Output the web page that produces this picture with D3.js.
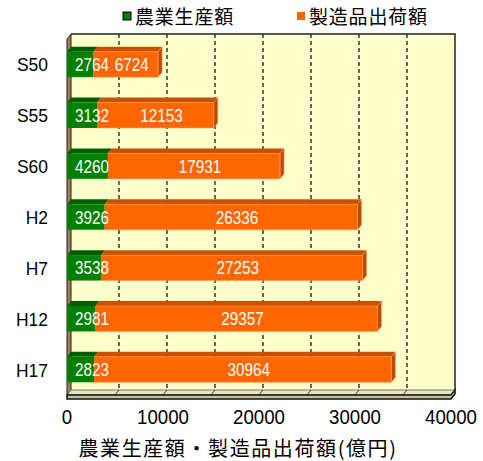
<!DOCTYPE html>
<html>
<head>
<meta charset="utf-8">
<script src="https://cdn.jsdelivr.net/npm/d3@7"></script>
<style>
  body { margin: 0; background: #fff; }
  text { font-family: "Noto Sans CJK JP", "Noto Sans", sans-serif; }
  text.num { font-family: "Liberation Sans", Arial, sans-serif; }
</style>
</head>
<body>
<div id="chart"></div>
<script>
const categories = ["S50", "S55", "S60", "H2", "H7", "H12", "H17"];
const agriculture = [2764, 3132, 4260, 3926, 3538, 2981, 2823];
const manufacturing = [6724, 12153, 17931, 26336, 27253, 29357, 30964];
const seriesNames = ["農業生産額", "製造品出荷額"];
const xTicks = [0, 10000, 20000, 30000, 40000];
const axisTitle = "農業生産額・製造品出荷額(億円)";

const width = 483, height = 461;
const dx = 4, dy = 5;   // 3D depth offset (back wall is up-right of the front plane)

const svg = d3.select("#chart").append("svg")
  .attr("width", width)
  .attr("height", height);

// front plane scales
const x = d3.scaleLinear().domain([0, 40000]).range([67, 451]);
const y = d3.scaleBand().domain(categories).range([39, 395]).paddingInner(0.5).paddingOuter(0.25);
const yTop = 39, yBottom = 395;

const pts = p => p.map(d => d.join(",")).join(" ");

// narrow gothic-looking numbers: squeeze horizontally
function numText(parent, tx, ty, str, size, sx, anchor) {
  return parent.append("text")
    .attr("class", "num")
    .attr("transform", `translate(${tx},${ty}) scale(${sx},1)`)
    .attr("text-anchor", anchor)
    .attr("font-size", size)
    .text(str);
}

// back wall
svg.append("rect")
  .attr("x", x(0) + dx).attr("y", yTop - dy)
  .attr("width", x(40000) - x(0)).attr("height", yBottom - yTop)
  .attr("fill", "#ffffcc");

// dashed gridlines on the back wall
d3.range(5000, 40000, 5000).forEach(v => {
  svg.append("line")
    .attr("x1", x(v) + dx).attr("x2", x(v) + dx)
    .attr("y1", yTop - dy).attr("y2", yBottom - dy)
    .attr("stroke", "#404040").attr("stroke-width", 1.6)
    .attr("stroke-dasharray", "4,3");
});

// back wall border (top + right)
svg.append("path")
  .attr("d", `M${x(0) + dx},${yTop - dy}H${x(40000) + dx}V${yBottom - dy}`)
  .attr("fill", "none").attr("stroke", "#222").attr("stroke-width", 1.5);

// left side wall
svg.append("polygon")
  .attr("points", pts([[x(0), yTop], [x(0) + dx, yTop - dy], [x(0) + dx, yBottom - dy], [x(0), yBottom]]))
  .attr("fill", "#a57c5b").attr("stroke", "#222").attr("stroke-width", 1);

// floor
svg.append("polygon")
  .attr("points", pts([[x(0), yBottom], [x(0) + dx, yBottom - dy], [x(40000) + dx, yBottom - dy], [x(40000), yBottom]]))
  .attr("fill", "#e6e6c4").attr("stroke", "#555").attr("stroke-width", 0.8);
svg.append("polygon")
  .attr("points", pts([[x(0), yBottom], [x(40000), yBottom], [x(40000) + dx, yBottom - dy], [x(40000) + dx, yBottom - 1], [x(40000), yBottom + 4], [x(0), yBottom + 4]]))
  .attr("fill", "#c2c29a").attr("stroke", "#111").attr("stroke-width", 1.5);

// floor tick marks
d3.range(5000, 40001, 5000).forEach(v => {
  svg.append("line")
    .attr("x1", x(v)).attr("y1", yBottom)
    .attr("x2", x(v) + dx).attr("y2", yBottom - dy)
    .attr("stroke", "#333").attr("stroke-width", 1);
});

// bars
const series = [
  { name: seriesNames[0], values: agriculture, face: "#008000", topFace: "#005e00", side: "#005000", edge: "#004800" },
  { name: seriesNames[1], values: manufacturing, face: "#ff6600", topFace: "#c85000", side: "#c04800", edge: "#ff9a55" }
];

const barLayer = svg.append("g");
const labelLayer = svg.append("g").attr("fill", "#fff");

categories.forEach((c, i) => {
  let start = 0;
  const y0 = y(c), h = y.bandwidth();
  series.forEach((s, si) => {
    const v = s.values[i];
    const xa = x(start), xb = x(start + v);
    const g = barLayer.append("g");
    // top face
    g.append("polygon")
      .attr("points", pts([[xa, y0], [xa + dx, y0 - dy], [xb + dx, y0 - dy], [xb, y0]]))
      .attr("fill", s.topFace);
    // front face
    g.append("rect")
      .attr("x", xa).attr("y", y0).attr("width", xb - xa).attr("height", h)
      .attr("fill", s.face);
    // right end face (only visible on last segment)
    if (si === series.length - 1) {
      g.append("polygon")
        .attr("points", pts([[xb, y0], [xb + dx, y0 - dy], [xb + dx, y0 + h - dy], [xb, y0 + h]]))
        .attr("fill", s.side).attr("stroke", s.edge).attr("stroke-width", 0.6);
      g.append("path")
        .attr("d", `M${xa},${y0}H${xb}V${y0 + h}H${xa}`)
        .attr("fill", "none").attr("stroke", s.edge).attr("stroke-width", 0.6);
    }
    // value label
    const lx = si === 0 ? xa + 8 : (xa + xb) / 2 + 6;
    numText(labelLayer, lx, y0 + h / 2 + 6.5, v, 18, 0.85, si === 0 ? "start" : "middle");
    start += v;
  });
});

// category labels
categories.forEach(c => {
  numText(svg, 48, y(c) + y.bandwidth() / 2 + 7, c, 19, 0.92, "end");
});

// x tick labels
xTicks.forEach(t => {
  numText(svg, x(t), 424, t, 21, 0.89, "middle");
});

// axis title
svg.append("text")
  .attr("x", 238).attr("y", 456)
  .attr("text-anchor", "middle")
  .attr("font-size", 20)
  .attr("letter-spacing", 1.6)
  .text(axisTitle);

// legend
const legend = [
  { name: seriesNames[0], color: "#008000", x: 123 },
  { name: seriesNames[1], color: "#ff6600", x: 297 }
];
legend.forEach(l => {
  svg.append("rect")
    .attr("x", l.x).attr("y", 12).attr("width", 8).attr("height", 8)
    .attr("fill", l.color)
    .attr("stroke", l.color === "#008000" ? "#000" : "none");
  svg.append("text")
    .attr("x", l.x + 12).attr("y", 24)
    .attr("font-size", 19)
    .attr("letter-spacing", 0.8)
    .text(l.name);
});
</script>
</body>
</html>
